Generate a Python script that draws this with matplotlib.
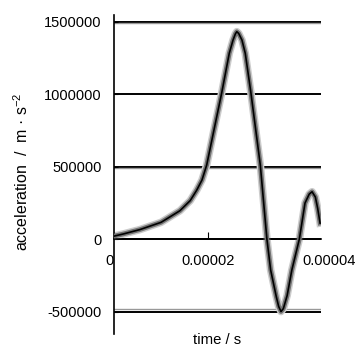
import matplotlib
matplotlib.use('Agg')
import matplotlib.pyplot as plt

# time in units of 1e-5 s, acceleration in m/s^2
t_e5 = [0.0, 0.2, 0.55, 1.0, 1.4, 1.62, 1.76, 1.87, 1.97, 2.13, 2.29, 2.45, 2.53, 2.58,
        2.61, 2.65, 2.72, 2.79, 2.91, 3.11, 3.25, 3.33, 3.45, 3.5, 3.55, 3.6, 3.68,
        3.78, 3.94, 4.06, 4.15, 4.21, 4.28, 4.33, 4.38]
accel = [20000, 35000, 65000, 115000, 195000, 265000, 338000, 407000, 510000, 760000,
         1009000, 1281000, 1372000, 1415000, 1430000, 1418000, 1372000, 1281000, 1009000,
         510000, 0, -214000, -398000, -465000, -500000, -480000, -390000, -214000, 0,
         248000, 310000, 326000, 290000, 210000, 110000]
grid_levels = [1500000, 1000000, 500000, 0, -500000]
ytick_labels = ['1500000', '1000000', '500000', '0', '-500000']
xticks = [0, 2e-5, 4e-5]
xtick_labels = ['0', '0.00002', '0.00004']

t = [v * 1e-5 for v in t_e5]

plt.rcParams['font.family'] = ['Liberation Sans', 'DejaVu Sans']
plt.rcParams['mathtext.default'] = 'regular'
fs = 10.5

fig = plt.figure(figsize=(3.58, 3.49), dpi=100)
ax = fig.add_axes([114 / 358, 1 - 334 / 349, 207 / 358, 319 / 349])

for lv in grid_levels:
    ax.axhline(lv, color='black', lw=1.4, zorder=1)
# faint doubled lines seen in the scan
ax.axhline(1500000 - 11000, color='0.6', lw=1.0, zorder=1)
ax.axhline(500000 - 12000, color='0.6', lw=1.0, zorder=1)
ax.axhline(-500000 + 20000, color='0.6', lw=1.0, zorder=1)

# noisy band around the trace, then the fitted line
ax.plot(t, accel, color='0.8', lw=5.5, solid_joinstyle='round', zorder=2)
ax.plot(t, accel, color='0.45', lw=3.4, solid_joinstyle='round', zorder=3)
ax.plot(t, accel, color='black', lw=1.2, solid_joinstyle='round', zorder=4)

ax.set_xlim(0, 4.4e-5)
ax.set_ylim(-655000, 1545000)

ax.spines['top'].set_visible(False)
ax.spines['right'].set_visible(False)
ax.spines['bottom'].set_position(('data', 0))
ax.spines['left'].set_linewidth(1.2)
ax.spines['bottom'].set_linewidth(1.2)

ax.set_yticks(grid_levels)
ax.set_yticklabels(ytick_labels)
ax.set_xticks(xticks)
ax.set_xticklabels(xtick_labels)
ax.tick_params(axis='y', direction='in', length=3, pad=9, labelsize=fs)
ax.tick_params(axis='x', direction='in', length=5, pad=11, labelsize=fs)
labs = ax.get_xticklabels()
labs[0].set_ha('right')
labs[2].set_ha('left')

fig.text(217 / 358, 1 - 340 / 349, 'time / s', ha='center', va='center', fontsize=10.7)
fig.text(22 / 358, 1 - 172 / 349, 'acceleration  /  m · s$^{-2}$', ha='center', va='center',
         rotation=90, fontsize=11.5)

fig.savefig('out.png', dpi=100)
